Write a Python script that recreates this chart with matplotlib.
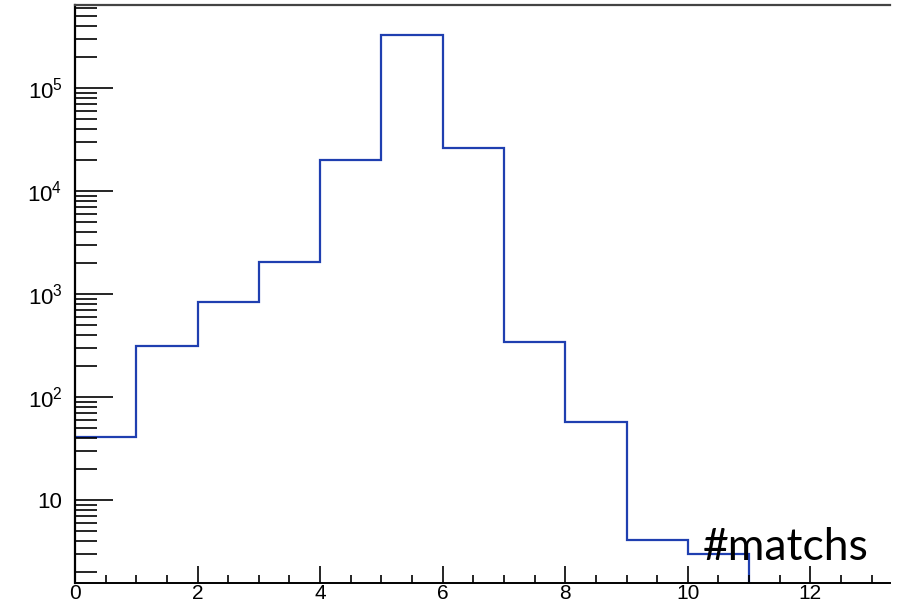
import math
import matplotlib
matplotlib.use('Agg')
from matplotlib import pyplot as plt
from matplotlib.ticker import (MultipleLocator, LogLocator, FixedLocator,
                               FuncFormatter, NullFormatter)

plt.rcParams['font.family'] = ['Liberation Sans', 'DejaVu Sans']
plt.rcParams['mathtext.fontset'] = 'custom'
plt.rcParams['mathtext.rm'] = 'Liberation Sans'
plt.rcParams['mathtext.it'] = 'Liberation Sans'

# number of matches per event, bin edges 0..13
edges = [0, 1, 2, 3, 4, 5, 6, 7, 8, 9, 10, 11, 12, 13]
counts = [41, 313, 835, 2040, 20000, 330000, 26000, 340, 57, 4.1, 3.0, 0, 0]
ymajor = [10, 1e2, 1e3, 1e4, 1e5]

fig = plt.figure(figsize=(9.12, 6.11), dpi=100)
ax = fig.add_axes([75/912, 28/611, 815/912, 578/611])

ax.stairs(counts, edges, baseline=None, color='#1f3fb0', lw=1.6)
ax.set_yscale('log')
ax.set_xlim(0, 13.3)
ax.set_ylim(1.56, 6.4e5)


def ylab(v, pos):
    if v == 10:
        return '10'
    e = int(round(math.log10(v)))
    return r'$10^{%d}$' % e


ax.yaxis.set_major_locator(FixedLocator(ymajor))
ax.yaxis.set_minor_locator(LogLocator(base=10, subs=range(2, 10), numticks=20))
ax.yaxis.set_major_formatter(FuncFormatter(ylab))
ax.yaxis.set_minor_formatter(NullFormatter())
ax.xaxis.set_major_locator(MultipleLocator(2))
ax.xaxis.set_minor_locator(MultipleLocator(0.5))

ax.tick_params(axis='y', which='major', direction='in', length=27, width=1.2,
               labelsize=16, pad=9)
ax.tick_params(axis='y', which='minor', direction='in', length=16, width=1.2)
ax.tick_params(axis='x', which='major', direction='in', length=12, width=1.2,
               labelsize=15, pad=1)
ax.tick_params(axis='x', which='minor', direction='in', length=6, width=1.2)

ax.spines['right'].set_visible(False)
ax.spines['left'].set_linewidth(1.6)
ax.spines['bottom'].set_linewidth(1.4)
ax.spines['top'].set_linewidth(1.6)
ax.spines['top'].set_color('#444444')

fig.text(703/912, 1 - 560/611, '#matchs', fontsize=32, family=['Lato', 'DejaVu Sans'],
         color='black', ha='left', va='baseline')

fig.savefig('out.png', dpi=100)
